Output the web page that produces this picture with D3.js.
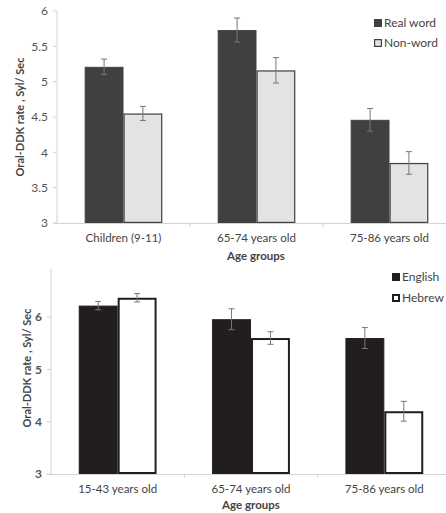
<!DOCTYPE html>
<html><head><meta charset="utf-8">
<script src="https://cdn.jsdelivr.net/npm/d3@7"></script>
<style>body{margin:0;background:#fff}svg{display:block}text{font-family:Lato,"Open Sans",sans-serif}</style>
</head><body>
<svg id="c" width="446" height="513"></svg>
<script>
// Top chart data
const topCategories = ["Children (9-11)", "65-74 years old", "75-86 years old"];
const topSeries = ["Real word", "Non-word"];
const realWord = [5.21, 5.73, 4.46];
const realWordErr = [0.11, 0.17, 0.16];
const nonWord = [4.55, 5.16, 3.85];
const nonWordErr = [0.10, 0.18, 0.16];
const topTicks = [3, 3.5, 4, 4.5, 5, 5.5, 6];

// Bottom chart data
const botCategories = ["15-43 years old", "65-74 years old", "75-86 years old"];
const botSeries = ["English", "Hebrew"];
const english = [6.22, 5.96, 5.60];
const englishErr = [0.08, 0.20, 0.20];
const hebrew = [6.37, 5.60, 4.20];
const hebrewErr = [0.08, 0.12, 0.19];
const botTicks = [3, 4, 5, 6];

const svg = d3.select("#c");

function chart(cfg) {
  const g = svg.append("g");
  const x = d3.scaleBand().domain(cfg.categories).range([cfg.left, cfg.right]);
  const xs = d3.scaleBand().domain(cfg.series).range([0, x.bandwidth()]).paddingInner(0).paddingOuter(0.713);
  const y = d3.scaleLinear().domain(cfg.domain).range([cfg.bottom, cfg.top]);

  // axes lines
  g.append("line").attr("x1", cfg.left).attr("x2", cfg.left).attr("y1", y(cfg.domain[0])).attr("y2", y(cfg.domain[1]))
    .attr("stroke", "#d4d4d4").attr("stroke-width", 1);
  g.append("line").attr("x1", cfg.left - 4).attr("x2", cfg.right).attr("y1", cfg.bottom + 0.5).attr("y2", cfg.bottom + 0.5)
    .attr("stroke", "#d4d4d4").attr("stroke-width", 1);
  // y ticks
  cfg.ticks.forEach(t => {
    g.append("line").attr("x1", cfg.left - 4).attr("x2", cfg.left).attr("y1", y(t)).attr("y2", y(t)).attr("stroke", "#d4d4d4");
    g.append("text").attr("x", cfg.left - 9).attr("y", y(t)).attr("dy", "0.35em").attr("text-anchor", "end")
      .attr("font-size", 12).attr("fill", "#555").attr("font-weight", cfg.tickBold ? "bold" : "normal").text(t);
  });
  // x category tick marks
  cfg.categories.slice(1).forEach(c => {
    g.append("line").attr("x1", x(c)).attr("x2", x(c)).attr("y1", cfg.bottom).attr("y2", cfg.bottom + 4).attr("stroke", "#d4d4d4");
  });
  // x labels
  cfg.categories.forEach(c => {
    g.append("text").attr("x", x(c) + x.bandwidth() / 2).attr("y", cfg.bottom + 15).attr("dy", "0.35em")
      .attr("text-anchor", "middle").attr("font-size", 11.5).attr("fill", "#444").text(c);
  });
  // x title
  g.append("text").attr("x", cfg.titleX).attr("y", cfg.xTitleY).attr("dy", "0.35em").attr("text-anchor", "middle")
    .attr("font-size", 11.5).attr("font-weight", "bold").attr("fill", "#444").text("Age groups");
  // y title
  g.append("text").attr("transform", `translate(${cfg.yTitleX},${cfg.yTitleY}) rotate(-90)`).attr("dy", "0.35em")
    .attr("text-anchor", "middle").attr("font-size", 11).attr("font-weight", "bold").attr("fill", "#444")
    .text("Oral-DDK rate , Syl/ Sec");

  // bars
  cfg.series.forEach((s, si) => {
    const vals = cfg.values[si], errs = cfg.errors[si], st = cfg.styles[si];
    cfg.categories.forEach((c, i) => {
      const bx = x(c) + xs(s);
      g.append("rect").attr("x", bx + st.sw / 2).attr("y", y(vals[i]) + st.sw / 2)
        .attr("width", xs.bandwidth() - st.sw).attr("height", y(cfg.domain[0]) - y(vals[i]) - st.sw)
        .attr("fill", st.fill).attr("stroke", st.stroke).attr("stroke-width", st.sw);
    });
  });
  // error bars
  cfg.series.forEach((s, si) => {
    const vals = cfg.values[si], errs = cfg.errors[si];
    cfg.categories.forEach((c, i) => {
      const cx = x(c) + xs(s) + xs.bandwidth() / 2;
      const y1 = y(vals[i] + errs[i]), y2 = y(vals[i] - errs[i]);
      g.append("line").attr("x1", cx).attr("x2", cx).attr("y1", y1).attr("y2", y2).attr("stroke", "#777").attr("stroke-width", 1);
      [y1, y2].forEach(yy => g.append("line").attr("x1", cx - 3).attr("x2", cx + 3).attr("y1", yy).attr("y2", yy)
        .attr("stroke", "#777").attr("stroke-width", 1));
    });
  });
  // legend
  cfg.series.forEach((s, si) => {
    const st = cfg.styles[si];
    const ly = cfg.legendY[si];
    const ls = cfg.legendStroke[si];
    g.append("rect").attr("x", cfg.legendX + ls / 2).attr("y", ly - 4 + ls / 2).attr("width", 8 - ls).attr("height", 8 - ls)
      .attr("fill", st.fill).attr("stroke", st.stroke).attr("stroke-width", ls);
    g.append("text").attr("x", cfg.legendX + 10).attr("y", ly).attr("dy", "0.35em").attr("font-size", 12)
      .attr("fill", "#444").text(s);
  });
}

chart({
  categories: topCategories, series: topSeries, values: [realWord, nonWord], errors: [realWordErr, nonWordErr],
  domain: [3, 6], ticks: topTicks, left: 57, right: 456, top: 11, bottom: 223,
  styles: [{fill: "#404040", stroke: "#404040", sw: 1}, {fill: "#e2e3e5", stroke: "#404040", sw: 1.2}],
  titleX: 256, xTitleY: 256, yTitleX: 20, yTitleY: 117, legendX: 374, legendY: [23, 43], legendStroke: [1, 1.2]
});
chart({
  categories: botCategories, series: botSeries, values: [english, hebrew], errors: [englishErr, hebrewErr],
  domain: [3, 6.92], ticks: botTicks, left: 51, right: 451, top: 269, bottom: 474, tickBold: true,
  styles: [{fill: "#221e1f", stroke: "#221e1f", sw: 1}, {fill: "#ffffff", stroke: "#221e1f", sw: 2}],
  titleX: 251, xTitleY: 505, yTitleX: 27, yTitleY: 368, legendX: 392, legendY: [277, 298], legendStroke: [1, 2]
});
</script>
</body></html>
